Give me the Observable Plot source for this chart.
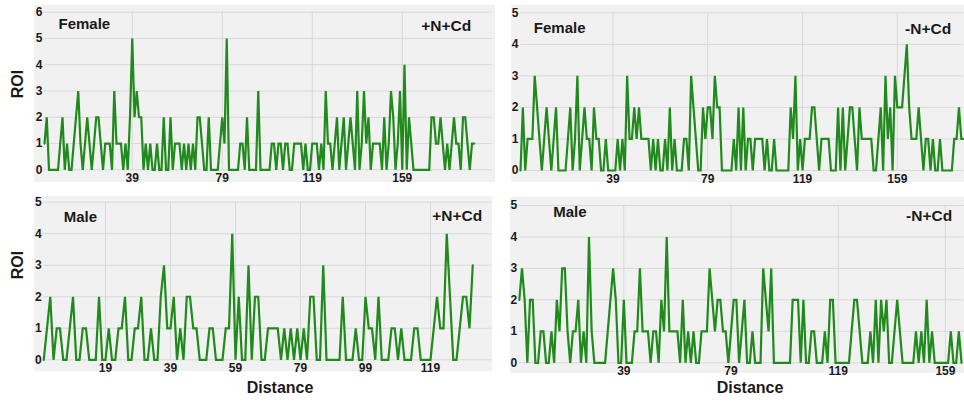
<!DOCTYPE html>
<html><head><meta charset="utf-8">
<script src="https://cdn.jsdelivr.net/npm/d3@7"></script>
<script src="https://cdn.jsdelivr.net/npm/@observablehq/plot@0.6"></script>
<style>
body{margin:0;background:#fff;}
#wrap{position:relative;width:964px;height:403px;overflow:hidden;font-family:"Liberation Sans",Arial,sans-serif;background:#fff;}
.panel{position:absolute;}
.lbl{position:absolute;font-weight:bold;font-size:16px;line-height:16px;color:#1a1a1a;white-space:nowrap;}
</style></head><body><div id="wrap"></div>
<script>
// ROI values by distance (index = distance)
const femalePlusNCd = [1,2,0,0,0,0,0,1,2,0, 1,0,0,1,2,3,1,0,1,2, 1,0,1,2,2,1,0,1,1,1, 0,3,1,1,1,0,1,0,2,5, 2,3,2,2,0,1,0,1,0,0, 1,0,0,2,0,0,2,0,1,1, 1,0,1,0,1,0,1,0,2,2, 1,0,0,2,0,0,0,0,1,2, 1,5,0,0,0,0,0,1,1,0, 2,0,0,0,0,3,0,0,0,0, 0,1,1,0,1,1,0,1,1,0, 0,1,1,1,1,0,1,0,0,1, 1,1,0,1,0,3,1,1,0,1, 2,0,1,2,0,1,2,1,0,3, 0,1,3,1,2,0,1,1,1,1, 0,2,0,1,3,2,0,1,3,0, 4,0,2,1,0,0,0,0,0,0, 0,0,2,2,1,1,2,1,0,1, 0,1,2,1,1,0,2,2,1,0, 1,1];
const femaleMinusNCd = [0,2,0,1,1,1,3,2,1,0, 1,2,1,0,1,2,0,0,0,0, 1,2,0,1,3,0,1,2,1,1, 0,2,1,1,0,0,1,0,0,0, 0,1,0,1,0,3,1,1,2,1, 2,1,1,1,1,0,1,0,1,0, 0,1,0,2,0,1,0,0,0,1, 1,0,3,2,1,0,0,2,1,2, 2,1,3,2,2,0,0,0,0,0, 1,0,2,0,2,0,1,1,0,1, 1,1,1,0,1,0,0,1,0,0, 0,0,0,0,2,1,3,0,1,0, 1,1,1,2,2,1,0,1,1,1, 1,0,0,0,2,0,2,0,1,2, 2,1,0,2,1,1,1,1,1,0, 0,1,2,0,3,1,2,0,3,2, 2,2,3,4,2,1,1,1,2,1, 0,1,1,0,1,0,0,1,0,0, 0,0,0,1,1,2,1,1];
const malePlusNCd = [0,1,2,0,1,1,0,0,1,2, 0,0,1,1,0,0,0,2,0,0, 1,0,0,1,1,2,0,0,1,1, 2,0,0,1,0,0,2,3,1,1, 2,0,1,0,2,2,1,1,0,0, 0,1,1,0,0,0,1,1,4,0, 2,0,0,3,0,2,2,0,0,1, 1,1,1,0,1,0,1,0,1,0, 1,0,2,2,0,0,3,0,0,0, 0,0,2,0,0,0,1,0,0,2, 1,1,0,2,0,0,0,1,1,0, 1,0,0,0,1,1,0,0,0,0, 1,2,1,1,4,2,0,0,1,2, 2,1,3];
const maleMinusNCd = [2,3,2,0,2,2,0,0,1,1, 0,0,1,0,2,1,3,3,1,0, 1,1,2,0,1,0,4,1,0,0, 0,0,0,1,2,3,2,0,0,2, 0,0,0,1,1,3,1,1,1,0, 1,1,0,2,1,4,1,1,1,1, 0,2,0,1,0,1,0,0,1,1, 1,3,2,1,2,2,1,1,0,1, 2,2,0,1,2,0,0,1,0,0, 0,3,2,1,3,0,0,0,0,0, 0,0,2,2,2,0,2,0,0,1, 1,0,0,0,1,0,2,2,0,0, 0,0,0,0,1,2,2,1,0,0, 0,1,0,2,0,2,1,2,0,0, 1,2,1,0,0,0,0,0,1,0, 1,0,2,0,1,0,0,0,0,0, 0,1,0,0,1,0];

const xTicksFemale = [39, 79, 119, 159];
const xTicksMalePlus = [19, 39, 59, 79, 99, 119];
const xTicksMaleMinus = [39, 79, 119, 159];
const yTicks6 = [0, 1, 2, 3, 4, 5, 6];
const yTicks5 = [0, 1, 2, 3, 4, 5];
const sexLabels = ["Female", "Female", "Male", "Male"];
const treatmentLabels = ["+N+Cd", "-N+Cd", "+N+Cd", "-N+Cd"];

const panels = [
  {values: femalePlusNCd, xTicks: xTicksFemale, yTicks: yTicks6, sex: sexLabels[0], trt: treatmentLabels[0],
   left: 34, top: 5, width: 461, height: 177, mL: 10, mR: 3.25, mT: 6.7, mB: 12.7, xd: [0, 199], yd: [0, 6],
   sexDx: 14, sexDy: 11.8, trtDx: -21, trtDy: 14.2},
  {values: femaleMinusNCd, xTicks: xTicksFemale, yTicks: yTicks5, sex: sexLabels[1], trt: treatmentLabels[1],
   left: 511, top: 5, width: 453, height: 177, mL: 9, mR: 0.8, mT: 7.3, mB: 12, xd: [0, 187], yd: [0, 5],
   sexDx: 13.3, sexDy: 15.6, trtDx: -12.5, trtDy: 16.2},
  {values: malePlusNCd, xTicks: xTicksMalePlus, yTicks: yTicks5, sex: sexLabels[2], trt: treatmentLabels[2],
   left: 34, top: 196, width: 458, height: 175, mL: 9.25, mR: 0.25, mT: 5.7, mB: 11.7, xd: [0, 138], yd: [0, 5],
   sexDx: 20, sexDy: 15.2, trtDx: -10, trtDy: 13.5},
  {values: maleMinusNCd, xTicks: xTicksMaleMinus, yTicks: yTicks5, sex: sexLabels[3], trt: treatmentLabels[3],
   left: 510, top: 197, width: 454, height: 176, mL: 8.8, mR: 0.3, mT: 8, mB: 10.7, xd: [0, 166], yd: [0, 5],
   sexDx: 33.9, sexDy: 6.9, trtDx: -12, trtDy: 10.2}
];

const wrap = document.getElementById("wrap");
for (const p of panels) {
  const chart = Plot.plot({
    width: p.width, height: p.height,
    marginLeft: p.mL, marginRight: p.mR, marginTop: p.mT, marginBottom: p.mB,
    x: {domain: p.xd},
    y: {domain: p.yd},
    style: {background: "#f1f1f1", overflow: "visible", fontFamily: "'Liberation Sans', Arial, sans-serif",
            fontSize: "12px", fontWeight: "bold", color: "#1a1a1a"},
    marks: [
      Plot.gridY({ticks: p.yTicks, stroke: "#d9d9d9", strokeOpacity: 1, strokeWidth: 1}),
      Plot.gridX({ticks: p.xTicks, stroke: "#d9d9d9", strokeOpacity: 1, strokeWidth: 1}),
      Plot.lineY(p.values, {stroke: "#208a1c", strokeWidth: 2.2, strokeLinejoin: "miter", strokeMiterlimit: 3}),
      Plot.axisY({ticks: p.yTicks, tickSize: 0, tickPadding: 2, label: null, tickFormat: d => String(d)}),
      Plot.axisX({ticks: p.xTicks, tickSize: 0, tickPadding: 3.5, label: null, tickFormat: d => String(d)}),
      Plot.text([p.sex], {frameAnchor: "top-left", textAnchor: "start", lineAnchor: "middle", dx: p.sexDx, dy: p.sexDy, fontSize: 15, fontWeight: "bold", fill: "#1a1a1a"}),
      Plot.text([p.trt], {frameAnchor: "top-right", textAnchor: "end", lineAnchor: "middle", dx: p.trtDx, dy: p.trtDy, fontSize: 15.5, fontWeight: "bold", fill: "#1a1a1a"})
    ]
  });
  chart.classList.add("panel");
  chart.style.left = p.left + "px";
  chart.style.top = p.top + "px";
  chart.style.maxWidth = "none";
  wrap.appendChild(chart);
}

function addLabel(text, x, y, rotate) {
  const d = document.createElement("div");
  d.className = "lbl";
  d.textContent = text;
  d.style.left = x + "px";
  d.style.top = y + "px";
  d.style.transform = rotate ? "translate(-50%,-50%) rotate(-90deg)" : "translateX(-50%)";
  wrap.appendChild(d);
}
addLabel("ROI", 18, 84, true);
addLabel("ROI", 18.3, 265, true);
addLabel("Distance", 280, 379.8, false);
addLabel("Distance", 750, 379.8, false);
</script></body></html>
